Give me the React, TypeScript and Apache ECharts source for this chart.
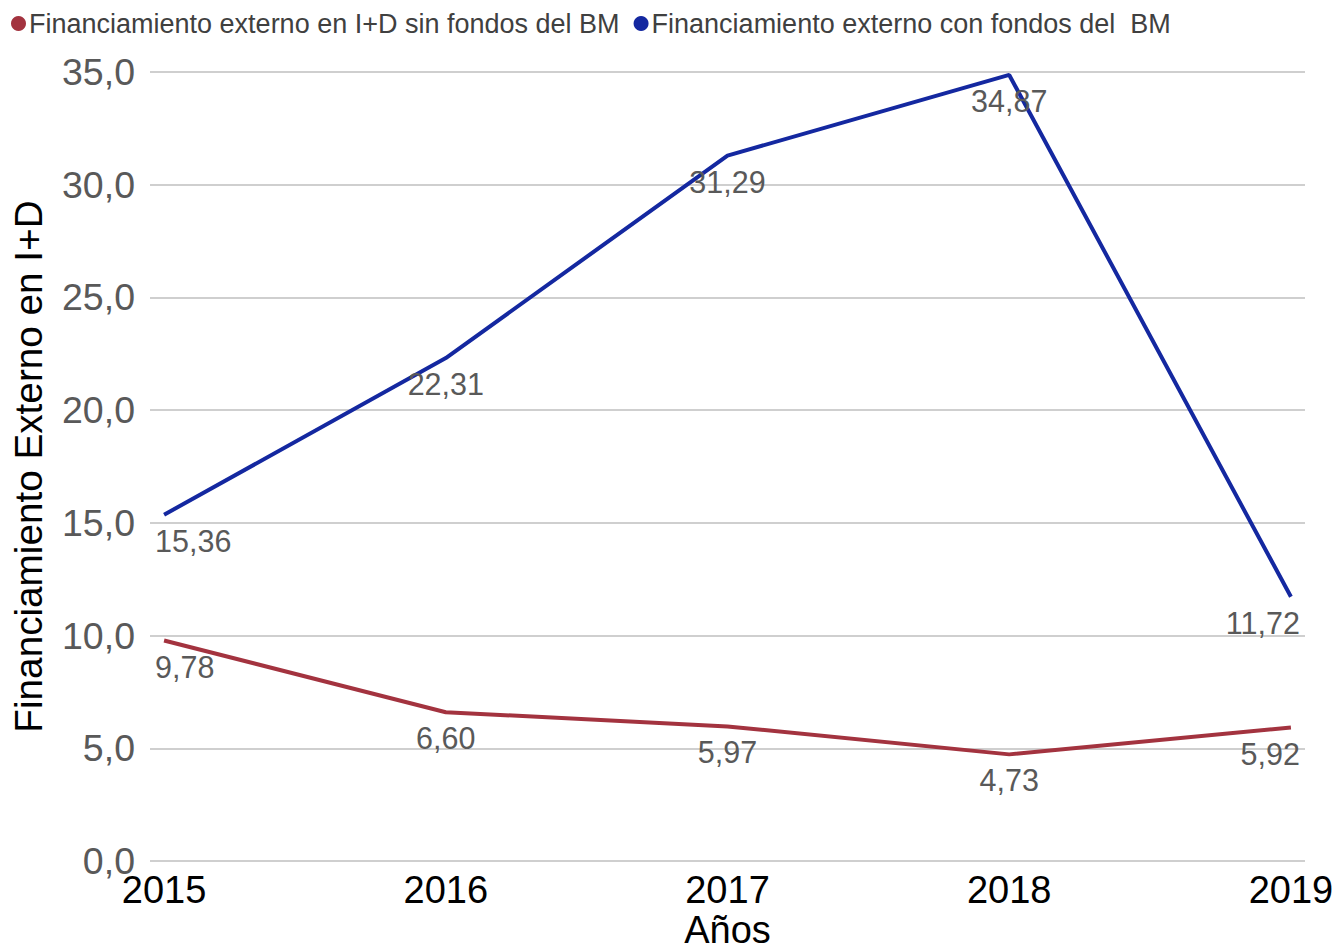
import React, { useEffect, useRef } from "react";
import * as echarts from "echarts";

const years = [2015, 2016, 2017, 2018, 2019];
const sinFondos = [9.78, 6.6, 5.97, 4.73, 5.92];
const conFondos = [15.36, 22.31, 31.29, 34.87, 11.72];
const seriesNames = [
  "Financiamiento externo en I+D sin fondos del BM",
  "Financiamiento externo con fondos del  BM",
];
const yTicks = [0, 5, 10, 15, 20, 25, 30, 35];

const fmt = (v: number, d: number) => v.toFixed(d).replace(".", ",");

export default function App() {
  const ref = useRef<HTMLDivElement>(null);
  useEffect(() => {
    if (!ref.current) return;
    const chart = echarts.init(ref.current, undefined, { renderer: "svg" });
    const font = "Liberation Sans, Arial, sans-serif";
    const mkData = (vals: number[]) =>
      vals.map((v, i) => {
        const item: any = { value: [years[i], v] };
        if (i === 0) item.label = { align: "left", position: [-9, 26] };
        if (i === vals.length - 1) item.label = { align: "right", position: [9, 26] };
        return item;
      });
    const label = {
      show: true,
      position: [0, 26],
      align: "center",
      verticalAlign: "middle",
      color: "#595959",
      fontSize: 30.5,
      fontFamily: font,
      formatter: (p: any) => fmt(p.value[1], 2),
    };
    chart.setOption({
      animation: false,
      backgroundColor: "#ffffff",
      textStyle: { fontFamily: font },
      legend: {
        top: 5,
        left: 6,
        itemGap: 14,
        itemWidth: 15,
        itemHeight: 15,
        icon: "circle",
        textStyle: { fontSize: 27, color: "#404040", fontFamily: font, padding: [0, 0, 0, -2] },
        data: seriesNames,
      },
      grid: {
        left: 150,
        right: 32,
        top: 72,
        bottom: 90,
        containLabel: false,
        outerBoundsMode: "none",
      },
      xAxis: {
        type: "value",
        min: 2014.95,
        max: 2019.05,
        name: "Años",
        nameLocation: "middle",
        nameGap: 50,
        nameMoveOverlap: false,
        nameTextStyle: { fontSize: 38, color: "#000000", fontFamily: font },
        axisLine: { show: false },
        axisTick: { show: false },
        splitLine: { show: false },
        axisLabel: {
          customValues: years,
          formatter: (v: number) => String(v),
          fontSize: 38,
          color: "#000000",
          margin: 10,
          fontFamily: font,
        },
      },
      yAxis: {
        type: "value",
        min: 0,
        max: 35,
        interval: 5,
        name: "Financiamiento Externo en I+D",
        nameLocation: "middle",
        nameGap: 102,
        nameMoveOverlap: false,
        nameTextStyle: { fontSize: 38.7, color: "#000000", fontFamily: font },
        axisLine: { show: false },
        axisTick: { show: false },
        splitLine: { lineStyle: { color: "#BFBFBF", width: 1.5 } },
        axisLabel: {
          formatter: (v: number) => (yTicks.includes(v) ? fmt(v, 1) : ""),
          fontSize: 37.5,
          color: "#595959",
          margin: 15,
          fontFamily: font,
        },
      },
      series: [
        {
          name: seriesNames[0],
          type: "line",
          data: mkData(sinFondos),
          symbol: "circle",
          symbolSize: 0,
          showSymbol: true,
          lineStyle: { color: "#A3333F", width: 4 },
          itemStyle: { color: "#A3333F" },
          label,
          labelLayout: { hideOverlap: false },
        },
        {
          name: seriesNames[1],
          type: "line",
          data: mkData(conFondos),
          symbol: "circle",
          symbolSize: 0,
          showSymbol: true,
          lineStyle: { color: "#1428A0", width: 4 },
          itemStyle: { color: "#1428A0" },
          label,
          labelLayout: { hideOverlap: false },
        },
      ],
    });
    return () => chart.dispose();
  }, []);
  return (
    <div
      ref={ref}
      style={{ position: "fixed", left: 0, top: 0, width: 1337, height: 951 }}
    />
  );
}
